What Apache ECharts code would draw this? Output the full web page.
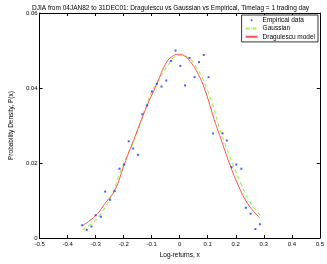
<!DOCTYPE html>
<html><head><meta charset="utf-8">
<script src="https://cdn.jsdelivr.net/npm/echarts@6/dist/echarts.min.js"></script>
<style>html,body{margin:0;padding:0;background:#fff}#c{width:327px;height:264px}</style>
</head><body><div id="c"></div>
<script>
const titleText = 'DJIA from 04JAN82 to 31DEC01: Dragulescu vs Gaussian vs Empirical, Timelag = 1 trading day';
const xTicks = [-0.5,-0.4,-0.3,-0.2,-0.1,0,0.1,0.2,0.3,0.4,0.5];
const yTicks = [0,0.02,0.04,0.06];
const empX = [-0.348,-0.332,-0.315,-0.300,-0.281,-0.266,-0.249,-0.232,-0.215,-0.198,-0.182,-0.166,-0.149,-0.133,-0.116,-0.099,-0.082,-0.065,-0.048,-0.031,-0.015,0.002,0.019,0.035,0.053,0.069,0.086,0.103,0.119,0.153,0.168,0.185,0.202,0.220,0.236,0.253,0.270,0.286];
const empY = [0.0034,0.0022,0.0031,0.0061,0.0057,0.0124,0.0102,0.0125,0.0185,0.0196,0.0258,0.0239,0.0222,0.0330,0.0354,0.0391,0.0411,0.0404,0.0420,0.0472,0.0500,0.0459,0.0407,0.0480,0.0429,0.0469,0.0488,0.0429,0.0279,0.0279,0.0260,0.0189,0.0196,0.0185,0.0081,0.0065,0.0024,0.0037];
const gaussX = [-0.348,-0.311,-0.283,-0.243,-0.209,-0.181,-0.153,-0.108,-0.074,-0.041,-0.018,0.004,0.027,0.061,0.095,0.123,0.143,0.162,0.190,0.219,0.247,0.287];
const gaussY = [0.0022,0.0041,0.0063,0.0114,0.0183,0.0230,0.0277,0.0376,0.0423,0.0462,0.0483,0.0487,0.0483,0.0453,0.0402,0.0342,0.0290,0.0251,0.0196,0.0144,0.0101,0.0060];
const dragX = [-0.348,-0.300,-0.266,-0.232,-0.198,-0.165,-0.116,-0.082,-0.052,-0.029,-0.003,0.016,0.038,0.067,0.095,0.123,0.151,0.179,0.207,0.235,0.264,0.286];
const dragY = [0.0033,0.0060,0.0093,0.0127,0.0196,0.0260,0.0354,0.0410,0.0462,0.0483,0.0490,0.0486,0.0470,0.0436,0.0384,0.0316,0.0256,0.0196,0.0144,0.0101,0.0071,0.0054];

const zip = (a,b)=>a.map((v,i)=>[v,b[i]]);
const F = 'Liberation Sans, Arial, sans-serif';
const fmtX = v => { const r = Math.round(v*10)/10; return r===0 ? '0' : String(r); };
const fmtY = v => { const r = Math.round(v*100)/100; return r===0 ? '0' : String(r); };
const chart = echarts.init(document.getElementById('c'), null, {renderer:'canvas'});
const axLine = {show:true, onZero:false, lineStyle:{color:'#000', width:1}};
const tick = {show:true, inside:true, length:3, lineStyle:{color:'#000'}};
chart.setOption({
  animation:false,
  title:{text:titleText, left:27, top:0, textStyle:{fontFamily:F, fontSize:6.5, fontWeight:'normal', color:'#000'}},
  grid:{left:24, right:7, top:13, bottom:18},
  legend:{
    orient:'vertical', right:9, top:15, backgroundColor:'#fff',
    borderColor:'#000', borderWidth:0.8, borderRadius:0,
    padding:[1,3,1,3], itemGap:0, itemWidth:12, itemHeight:2,
    textStyle:{fontFamily:F, fontSize:6.5, color:'#000', lineHeight:8.3, padding:[0,0,0,0]},
    data:[{name:'Empirical data', icon:'circle'},{name:'Gaussian'},{name:'Dragulescu model'}]
  },
  xAxis:[{
    type:'value', min:-0.5, max:0.5, interval:0.1,
    name:'Log-returns, x', nameLocation:'middle', nameGap:10,
    nameTextStyle:{fontFamily:F, fontSize:6.5, color:'#000'},
    axisLine:axLine, axisTick:tick,
    axisLabel:{fontFamily:F, fontSize:6, color:'#000', margin:3, formatter:fmtX},
    splitLine:{show:false}
  },{
    type:'value', position:'top', min:-0.5, max:0.5, interval:0.1,
    axisLine:axLine, axisTick:tick,
    axisLabel:{show:false}, splitLine:{show:false}
  }],
  yAxis:[{
    type:'value', min:0, max:0.06, interval:0.02,
    name:'Probability Density, P(x)', nameLocation:'middle', nameGap:19,
    nameTextStyle:{fontFamily:F, fontSize:6.5, color:'#000'},
    axisLine:axLine, axisTick:tick,
    axisLabel:{fontFamily:F, fontSize:6, color:'#000', margin:2, formatter:fmtY},
    splitLine:{show:false}
  },{
    type:'value', position:'right', min:0, max:0.06, interval:0.02,
    axisLine:axLine, axisTick:tick,
    axisLabel:{show:false}, splitLine:{show:false}
  }],
  series:[
    {name:'Empirical data', type:'scatter', data:zip(empX,empY), symbol:'rect', symbolSize:2, itemStyle:{color:'#2233ff'}, z:5},
    {name:'Gaussian', type:'line', data:zip(gaussX,gaussY), smooth:true, showSymbol:false, symbol:'none',
      lineStyle:{color:'#a8f060', width:1.2, type:[4,3]}, itemStyle:{color:'#a8f060'}, z:3},
    {name:'Dragulescu model', type:'line', data:zip(dragX,dragY), smooth:true, showSymbol:false, symbol:'none',
      lineStyle:{color:'#ff5050', width:1}, itemStyle:{color:'#ff5050'}, z:4}
  ]
});
</script></body></html>
